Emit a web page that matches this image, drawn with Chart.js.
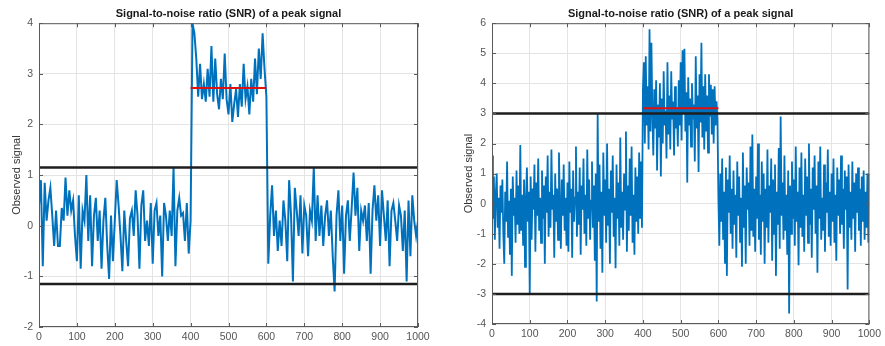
<!DOCTYPE html>
<html>
<head>
<meta charset="utf-8">
<script src="https://cdn.jsdelivr.net/npm/chart.js@4.4.1/dist/chart.umd.min.js"></script>
<style>
  body { margin: 0; background: #fff; }
  .wrap { position: absolute; top: 0; }
</style>
</head>
<body>
<div class="wrap" style="left:0"><canvas id="left" width="440" height="346"></canvas></div>
<div class="wrap" style="left:440px"><canvas id="right" width="445" height="346"></canvas></div>
<script>
// left plot: sampled every 5 units
const leftStep = 5
const leftSignal = [
  0.4,0.9,-0.8,0.85,0.1,0.5,0.75,0.2,-0.4,0.3,-0.4,-0.4,0.35,0.1,0.95,0.2,0.7,0.3,0.5,-0.2,
  -0.7,0.6,-0.85,0.3,0.1,1.0,-0.3,0.6,-0.8,0.2,0.55,-0.3,0.3,-0.85,0.1,0.55,-0.4,-1.05,0.2,-0.7,
  0.1,0.9,0.4,-0.2,-0.9,0.3,-0.3,-0.8,0.15,0.3,-0.2,0.7,0.2,-0.85,0.4,0.7,-0.3,0.1,-0.4,0.45,
  -0.75,0.3,0.45,-0.2,0.2,-1.0,0.45,0.2,-0.3,0.3,-0.2,1.15,-0.8,0.3,0.55,0.2,0.25,-0.3,0.45,-0.55,
  0.1,4.0,3.8,3.3,2.55,3.2,2.5,2.8,2.45,3.1,2.55,3.55,2.45,3.3,2.6,2.3,2.9,2.5,3.4,2.5,
  2.2,2.8,2.05,2.4,2.7,2.15,2.8,2.35,3.2,2.5,2.75,2.2,2.9,2.45,3.3,2.6,3.5,2.9,3.8,3.1,
  2.55,-0.75,0.2,0.8,-0.2,0.3,-0.5,0.1,-0.4,0.5,0.1,-0.7,0.9,0.2,-1.1,0.75,0.3,-0.2,0.6,-0.55,
  0.4,0.2,-0.6,0.3,0.1,1.15,-0.3,0.6,-0.2,0.4,-0.4,0.2,0.5,-0.2,0.3,-0.6,-1.3,0.2,0.7,-0.3,
  0.4,-0.95,0.2,0.5,-0.3,0.35,1.05,0.2,0.75,-0.5,0.3,0.1,0.4,-0.3,0.45,-0.95,0.3,0.8,0.1,0.6,
  -0.4,0.7,0.2,-0.3,0.5,-0.8,0.3,0.45,0.1,-0.3,0.4,0.2,-0.5,0.3,-1.1,0.5,-0.6,0.6,0.1,-0.2,
  0.1
]
const leftThreshold = 1.15
const leftMean = 2.72

// right plot: sampled every 2.5 units
const rightStep = 2.5
const rightSignal = [
  1.6,-0.5,0.9,-1.2,0.3,1.0,-0.8,0.2,-1.5,0.6,
  -0.3,0.8,-1.0,-2.0,0.4,-0.6,1.4,-1.1,0.1,-1.7,
  0.5,-2.4,0.9,-0.4,0.2,-1.3,1.1,-0.7,0.6,-1.0,
  1.95,-0.9,0.3,-1.4,0.8,-2.1,0.1,1.2,-0.6,0.4,
  -3.0,0.9,-1.2,0.5,-0.2,1.3,-1.6,0.7,-0.4,1.5,
  -0.9,0.2,-1.3,1.1,-0.5,0.6,-2.0,0.9,-0.3,1.6,
  -1.1,0.4,-0.8,1.8,-0.2,0.3,-1.8,1.0,-0.6,0.5,
  -1.2,1.7,-0.1,-1.5,0.8,-0.4,1.3,-0.9,0.2,-1.4,
  0.7,-1.6,1.4,-0.3,0.5,-1.8,1.1,-0.6,0.2,1.9,
  -1.1,0.4,-0.7,1.2,-1.7,0.6,-0.2,1.5,-1.0,0.3,
  -1.4,1.8,-0.5,0.8,-1.2,0.1,1.4,-0.8,0.6,-1.9,
  1.0,-3.25,3.0,-0.6,1.3,-1.5,0.4,-2.3,1.7,-0.4,
  0.8,-1.3,2.0,-0.7,0.5,-2.0,1.1,-0.3,1.6,-1.1,
  0.2,-2.15,1.3,-0.5,0.7,-1.4,2.2,-0.8,0.4,-1.2,
  1.0,-0.2,2.4,-1.6,0.6,-0.9,1.5,-0.4,1.9,-1.3,
  0.3,-1.7,1.2,-0.6,0.9,-1.0,1.7,-0.5,1.4,-0.8,
  3.8,4.7,2.0,4.9,2.6,3.9,1.8,5.8,2.4,5.35,
  3.0,1.6,3.8,2.5,4.1,1.1,3.3,2.2,4.0,0.9,
  3.5,2.0,4.4,2.6,3.1,1.5,4.7,2.3,3.6,1.8,
  4.4,2.8,3.4,1.6,3.9,2.5,3.2,1.9,4.1,2.6,
  4.7,2.1,5.1,3.0,5.15,2.4,3.7,0.7,4.2,2.6,
  3.5,1.9,4.0,2.8,3.3,1.4,4.9,2.5,3.6,1.05,
  4.3,2.7,5.35,2.2,3.9,1.8,4.3,2.4,3.6,1.7,
  4.3,2.9,3.95,2.3,3.8,2.0,3.9,2.6,3.4,2.8,
  0.2,-1.4,1.0,-0.6,1.5,-1.2,0.4,-2.0,1.2,-2.4,
  0.8,-0.3,1.6,-1.0,0.5,-1.5,1.1,-0.7,0.3,-1.8,
  1.4,-0.4,0.9,-1.3,0.2,-2.1,1.7,-0.8,0.6,-2.0,
  1.2,-0.2,0.7,-1.4,1.9,-0.9,2.3,-1.1,0.5,-1.6,
  0.9,-0.5,2.0,-1.2,0.3,-1.7,1.4,-0.6,1.0,-2.0,
  0.5,-0.8,1.8,-1.3,0.6,-0.3,1.5,-1.9,0.8,-1.0,
  1.3,-2.4,0.4,-0.7,1.85,-1.5,2.9,-0.4,0.7,-1.2,
  1.6,-0.9,0.3,-1.7,1.1,-3.65,0.6,-1.0,1.4,-0.5,
  0.8,-1.4,1.9,-0.6,0.4,-2.05,1.2,-0.8,1.7,-1.1,
  0.3,-1.6,1.5,-0.4,0.9,-1.3,2.0,-0.7,0.5,-1.8,
  1.2,-0.2,1.6,-1.0,0.6,-2.3,1.4,-0.5,1.9,-1.2,
  0.2,-0.9,1.3,-1.6,0.7,-0.3,1.8,-1.1,0.4,-1.4,
  1.0,-0.6,1.5,-1.3,0.3,-1.9,1.2,-0.4,0.8,-1.0,
  1.6,-0.7,0.5,-1.5,1.1,-0.2,0.9,-2.85,1.3,-0.8,
  0.4,-1.2,1.4,-0.5,0.7,-1.6,1.0,-0.3,1.2,-0.9,
  0.5,-1.4,0.9,-0.6,1.1,-1.2,0.4,-0.8,1.0,-1.3,
  1.0
]
const rightThreshold = 3
const rightMean = 3.17

const peakRange = [400, 600]
const xRange = [0, 1000]
const titleText = 'Signal-to-noise ratio (SNR) of a peak signal'
const yTitle = 'Observed signal'

const FONT = '"Liberation Sans", Arial, sans-serif'

// matlab style box with inward ticks
const boxPlugin = {
  id: 'box',
  afterDraw(chart) {
    const {ctx, chartArea: a, scales} = chart
    ctx.save()
    ctx.strokeStyle = '#5a5a5a'
    ctx.lineWidth = 1
    ctx.strokeRect(a.left + 0.5, a.top + 0.5, a.right - a.left - 1, a.bottom - a.top - 1)
    ctx.beginPath()
    scales.x.ticks.forEach(t => {
      const px = Math.round(scales.x.getPixelForValue(t.value)) + 0.5
      ctx.moveTo(px, a.top); ctx.lineTo(px, a.top + 4)
      ctx.moveTo(px, a.bottom); ctx.lineTo(px, a.bottom - 4)
    })
    scales.y.ticks.forEach(t => {
      const py = Math.round(scales.y.getPixelForValue(t.value)) + 0.5
      ctx.moveTo(a.left, py); ctx.lineTo(a.left + 4, py)
      ctx.moveTo(a.right, py); ctx.lineTo(a.right - 4, py)
    })
    ctx.stroke()
    ctx.restore()
  }
}

const toPoints = (vals, step) => vals.map((v, i) => ({x: i * step, y: v}))
const hline = (y, from, to) => [{x: from, y: y}, {x: to, y: y}]
const plainNum = v => String(v)

function makeChart(id, vals, step, thr, mean, yMin, yMax, yWidth, xHeight, padRight, titlePad, sigWidth) {
  return new Chart(document.getElementById(id), {
    type: 'line',
    data: {
      datasets: [
        {data: toPoints(vals, step), borderColor: '#0072BD', borderWidth: sigWidth, pointRadius: 0, tension: 0, order: 3},
        {data: hline(thr, xRange[0], xRange[1]), borderColor: '#1e1e1e', borderWidth: 2.5, pointRadius: 0, order: 1},
        {data: hline(-thr, xRange[0], xRange[1]), borderColor: '#1e1e1e', borderWidth: 2.5, pointRadius: 0, order: 1},
        {data: hline(mean, peakRange[0], peakRange[1]), borderColor: '#e01010', borderWidth: 2, pointRadius: 0, order: 0}
      ]
    },
    options: {
      responsive: false,
      animation: false,
      layout: {padding: {left: 0, right: padRight, top: 0, bottom: 0}},
      plugins: {
        legend: {display: false},
        tooltip: {enabled: false},
        title: {
          display: true, text: titleText, fullSize: false, color: '#1a1a1a',
          font: {family: FONT, size: 11, weight: 'bold'},
          padding: {top: 7, bottom: 3}
        }
      },
      scales: {
        x: {
          type: 'linear', min: xRange[0], max: xRange[1],
          ticks: {stepSize: 100, color: '#555', font: {family: FONT, size: 10.5}, padding: 4, maxRotation: 0, callback: plainNum},
          grid: {color: '#e4e4e4', drawTicks: false},
          border: {display: false},
          afterFit: s => { s.height = xHeight }
        },
        y: {
          min: yMin, max: yMax,
          ticks: {stepSize: 1, color: '#555', font: {family: FONT, size: 10.5}, padding: 6, callback: plainNum},
          grid: {color: '#e4e4e4', drawTicks: false},
          border: {display: false},
          title: {display: true, text: yTitle, color: '#333', font: {family: FONT, size: 11}, padding: {top: titlePad, bottom: 0}},
          afterFit: s => { s.width = yWidth }
        }
      }
    },
    plugins: [boxPlugin]
  })
}

makeChart('left', leftSignal, leftStep, leftThreshold, leftMean, -2, 4, 39, 19, 22, 10, 2)
makeChart('right', rightSignal, rightStep, rightThreshold, rightMean, -4, 6, 52, 22, 10, 22, 1.8)
</script>
</body>
</html>
